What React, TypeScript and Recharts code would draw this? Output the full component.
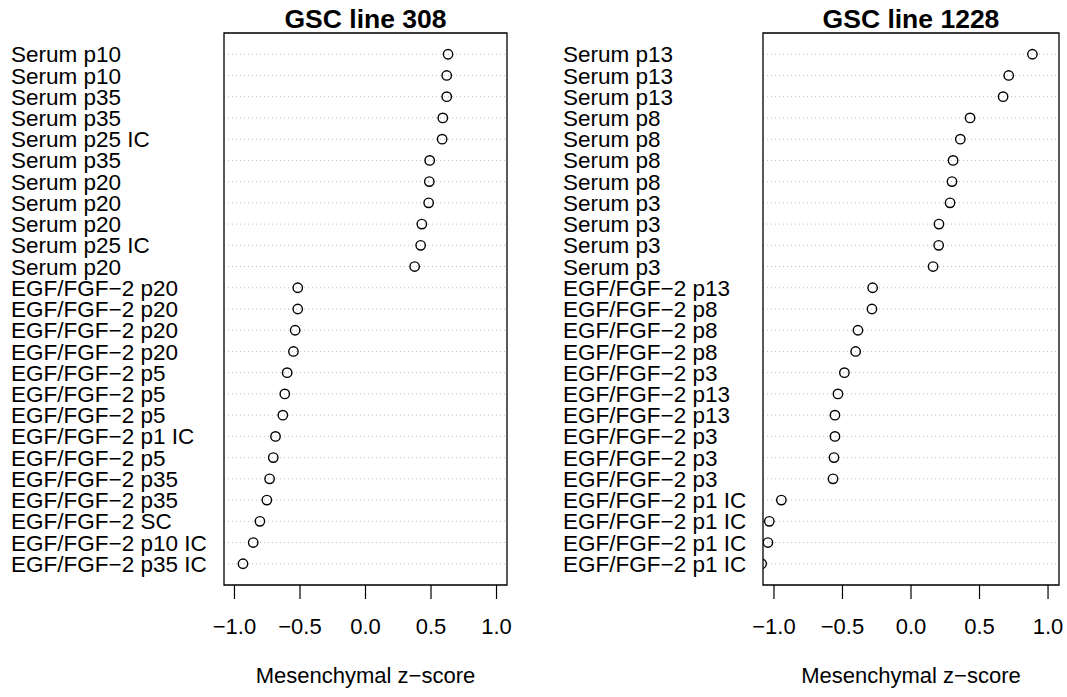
import React from "react";
import {
  ScatterChart,
  Scatter,
  XAxis,
  YAxis,
  CartesianGrid,
  ReferenceArea,
} from "recharts";

// GSC line 308 (top to bottom)
const labels308 = [
  "Serum p10",
  "Serum p10",
  "Serum p35",
  "Serum p35",
  "Serum p25 IC",
  "Serum p35",
  "Serum p20",
  "Serum p20",
  "Serum p20",
  "Serum p25 IC",
  "Serum p20",
  "EGF/FGF\u22122 p20",
  "EGF/FGF\u22122 p20",
  "EGF/FGF\u22122 p20",
  "EGF/FGF\u22122 p20",
  "EGF/FGF\u22122 p5",
  "EGF/FGF\u22122 p5",
  "EGF/FGF\u22122 p5",
  "EGF/FGF\u22122 p1 IC",
  "EGF/FGF\u22122 p5",
  "EGF/FGF\u22122 p35",
  "EGF/FGF\u22122 p35",
  "EGF/FGF\u22122 SC",
  "EGF/FGF\u22122 p10 IC",
  "EGF/FGF\u22122 p35 IC",
];
const values308 = [
  0.63, 0.62, 0.62, 0.59, 0.585, 0.49, 0.487, 0.482, 0.43, 0.421, 0.375,
  -0.517, -0.517, -0.537, -0.55, -0.598, -0.616, -0.631, -0.687, -0.704,
  -0.732, -0.753, -0.806, -0.857, -0.935,
];

// GSC line 1228 (top to bottom)
const labels1228 = [
  "Serum p13",
  "Serum p13",
  "Serum p13",
  "Serum p8",
  "Serum p8",
  "Serum p8",
  "Serum p8",
  "Serum p3",
  "Serum p3",
  "Serum p3",
  "Serum p3",
  "EGF/FGF\u22122 p13",
  "EGF/FGF\u22122 p8",
  "EGF/FGF\u22122 p8",
  "EGF/FGF\u22122 p8",
  "EGF/FGF\u22122 p3",
  "EGF/FGF\u22122 p13",
  "EGF/FGF\u22122 p13",
  "EGF/FGF\u22122 p3",
  "EGF/FGF\u22122 p3",
  "EGF/FGF\u22122 p3",
  "EGF/FGF\u22122 p1 IC",
  "EGF/FGF\u22122 p1 IC",
  "EGF/FGF\u22122 p1 IC",
  "EGF/FGF\u22122 p1 IC",
];
const values1228 = [
  0.886, 0.713, 0.672, 0.431, 0.36, 0.307, 0.299, 0.285, 0.204, 0.202, 0.161,
  -0.28, -0.285, -0.387, -0.404, -0.486, -0.533, -0.555, -0.555, -0.562,
  -0.569, -0.946, -1.034, -1.044, -1.09,
];

const xTicks = [-1, -0.5, 0, 0.5, 1];
const xLabel = "Mesenchymal z\u2212score";

const FONT = "'Liberation Sans', Arial, Helvetica, sans-serif";
const X_DOMAIN: [number, number] = [-1.08, 1.08];

const fmt = (v: number) => v.toFixed(1).replace("-", "\u2212");

interface PanelProps {
  title: string;
  labels: string[];
  values: number[];
  left: number;
  width: number;
  axisWidth: number;
  labelX: number;
  marginRight: number;
}

function DotPanel({ title, labels, values, left, width, axisWidth, labelX, marginRight }: PanelProps) {
  const data = values.map((z, i) => ({ row: i + 1, z }));
  const rows = labels.map((_, i) => i + 1);
  const n = labels.length;
  const plotW = width - axisWidth - marginRight;

  return (
    <div style={{ position: "absolute", left, top: 0, width, height: 697 }}>
      <div
        style={{
          position: "absolute",
          left: axisWidth,
          width: plotW,
          top: 6,
          textAlign: "center",
          fontFamily: FONT,
          fontWeight: "bold",
          fontSize: 26.5,
          lineHeight: "26px",
          color: "#000",
        }}
      >
        {title}
      </div>
      <ScatterChart
        width={width}
        height={697}
        margin={{ top: 33, right: marginRight, bottom: 52, left: 0 }}
        style={{ fontFamily: FONT }}
      >
        <CartesianGrid vertical={false} stroke="#bebebe" strokeDasharray="1 3" />
        <XAxis
          type="number"
          dataKey="z"
          domain={X_DOMAIN}
          allowDataOverflow
          ticks={xTicks}
          tickFormatter={fmt}
          interval={0}
          axisLine={false}
          tickSize={14}
          tickMargin={19}
          tickLine={{ stroke: "#000", strokeWidth: 1.2 }}
          tick={{ fill: "#000", fontSize: 22 }}
          height={60}
          label={{ value: xLabel, position: "bottom", offset: 22, fill: "#000", fontSize: 22 }}
        />
        <YAxis
          type="number"
          dataKey="row"
          domain={[0, n + 1]}
          reversed
          ticks={rows}
          interval={0}
          width={axisWidth}
          axisLine={false}
          tickLine={false}
          tick={(p: any) => (
            <text
              x={labelX}
              y={p.y}
              dy="0.36em"
              textAnchor="start"
              fontSize={22.5}
              fill="#000"
            >
              {labels[p.payload.value - 1]}
            </text>
          )}
        />
        <ReferenceArea
          x1={X_DOMAIN[0]}
          x2={X_DOMAIN[1]}
          y1={0}
          y2={n + 1}
          fill="none"
          fillOpacity={0}
          stroke="#000"
          strokeWidth={1.3}
        />
        <Scatter
          data={data}
          isAnimationActive={false}
          shape={(p: any) => (
            <circle cx={p.cx} cy={p.cy} r={4.7} fill="none" stroke="#000" strokeWidth={1.4} />
          )}
        />
      </ScatterChart>
    </div>
  );
}

export default function App() {
  return (
    <div style={{ position: "absolute", left: 0, top: 0, width: 1067, height: 697, background: "#fff" }}>
      <DotPanel
        title="GSC line 308"
        labels={labels308}
        values={values308}
        left={0}
        width={533}
        axisWidth={224}
        labelX={11}
        marginRight={26}
      />
      <DotPanel
        title="GSC line 1228"
        labels={labels1228}
        values={values1228}
        left={533}
        width={534}
        axisWidth={230}
        labelX={30}
        marginRight={8}
      />
    </div>
  );
}
